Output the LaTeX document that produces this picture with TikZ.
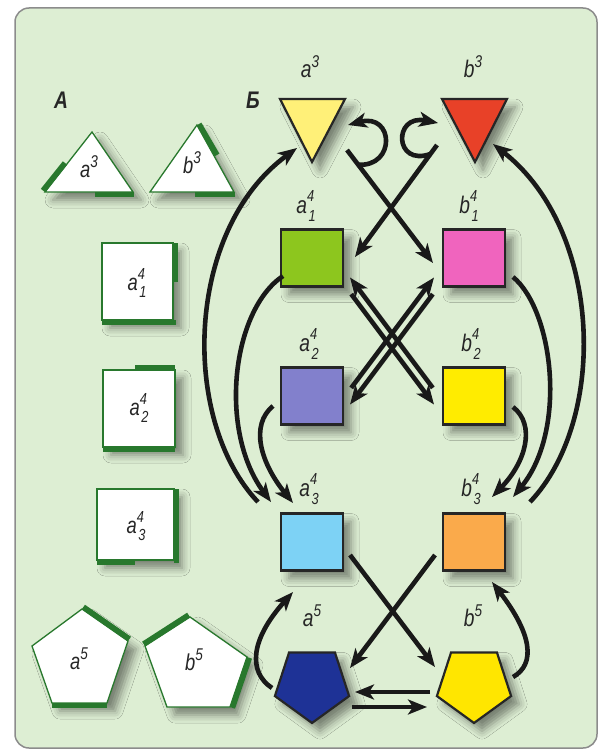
\documentclass[tikz,border=0pt]{standalone}
\usepackage{fontspec}
\setmainfont{Liberation Sans}
\newfontfamily\lf[FakeStretch=0.8]{Liberation Sans}
\usetikzlibrary{arrows.meta,shapes.geometric,shadows.blur,calc}

\definecolor{bg}{RGB}{221,238,211}
\definecolor{frm}{RGB}{140,140,140}
\definecolor{dg}{RGB}{40,120,45}
\definecolor{cya}{RGB}{255,240,120}
\definecolor{cyb}{RGB}{232,65,40}
\definecolor{cfa}{RGB}{141,198,30}
\definecolor{cfb}{RGB}{240,100,190}
\definecolor{cga}{RGB}{130,128,204}
\definecolor{cgb}{RGB}{255,236,0}
\definecolor{cha}{RGB}{125,210,245}
\definecolor{chb}{RGB}{250,170,75}
\definecolor{cpa}{RGB}{30,50,150}
\definecolor{cpb}{RGB}{255,230,0}

\newcommand\lsup[2]{#1\raisebox{0.43em}{\fontsize{17}{17}\selectfont #2}}
\newcommand\lsubsup[3]{#1\rlap{\raisebox{0.5em}{\fontsize{16}{16}\selectfont #2}}\raisebox{-0.32em}{\fontsize{16}{16}\selectfont\kern1.5pt #3}}

\begin{document}
\begin{tikzpicture}[x=1pt,y=-1pt,
  shd/.style={blur shadow={shadow xshift=8pt,shadow yshift=-8pt,shadow blur radius=8pt,shadow opacity=45}},
  sq/.style={draw=black!85,line width=2.2pt,minimum width=62pt,minimum height=57pt,inner sep=0pt,shd},
  pent/.style={regular polygon,regular polygon sides=5,shape border rotate=180,minimum size=78pt,inner sep=0pt,draw=black!85,line width=2.2pt,shd},
  tri/.style={draw=black!85,line width=2.2pt,line join=miter,shd},
  arr/.style={line width=4.6pt,draw=black!90,-{Stealth[length=19pt,width=15pt,inset=5pt]}},
  lbl/.style={font=\lf\itshape\fontsize{24}{24}\selectfont,text=black!85,inner sep=0pt},
  wlbl/.style={font=\lf\itshape\fontsize{23}{23}\selectfont,text=black!85,inner sep=0pt},
  big/.style={font=\lf\bfseries\itshape\fontsize{24}{24}\selectfont,text=black!85,inner sep=0pt},
  wsh/.style={fill=white,draw=dg,line width=1.3pt,shd},
  gbar/.style={draw=dg,line width=5.5pt}]

\useasboundingbox (0,0) rectangle (603,752);
\fill[white] (0,0) rectangle (603,752);
\draw[frm,line width=1.5pt,fill=bg,rounded corners=14pt] (15,8) rectangle (597,748);

% ---------- panel A ----------
\node[big] (tA) at (61,100) {A};
\path[wsh] (92,132) -- (133,192) -- (45,192) -- cycle;
\draw[gbar] (43,190.5) -- (65,163);
\draw[gbar] (95,194.5) -- (134,194.5);
\node[wlbl] (la3A) at (89,167) {\lsup{a}{3}};

\path[wsh] (197,125) -- (234,192) -- (150,192) -- cycle;
\draw[gbar] (199,124) -- (217,155);
\draw[gbar] (195,194.5) -- (235,194.5);
\node[wlbl] (lb3A) at (192,163) {\lsup{b}{3}};

\path[wsh] (102,243) rectangle (173,320);
\draw[gbar] (175.5,243) -- (175.5,282);
\draw[gbar] (102,322.5) -- (176,322.5);
\node[wlbl] (la41A) at (137,283) {\lsubsup{a}{4}{1}};

\path[wsh] (103,370) rectangle (175,447);
\draw[gbar] (135,367.5) -- (175,367.5);
\draw[gbar] (103,449.5) -- (175,449.5);
\node[wlbl] (la42A) at (139,408) {\lsubsup{a}{4}{2}};

\path[wsh] (97,489) rectangle (174,560);
\draw[gbar] (176.5,489) -- (176.5,563);
\draw[gbar] (97,562.5) -- (135,562.5);
\node[wlbl] (la43A) at (136,526) {\lsubsup{a}{4}{3}};

\path[wsh] (82,609) -- (128,641) -- (107,703) -- (52,703) -- (32,646) -- cycle;
\draw[gbar] (83.4,607) -- (129.4,639);
\draw[gbar] (52,705.5) -- (107,705.5);
\node[wlbl] (la5A) at (79,659) {\lsup{a}{5}};

\path[wsh] (190,617) -- (247,657) -- (230,707) -- (167,707) -- (145,646) -- cycle;
\draw[gbar] (143.6,644) -- (188.6,615);
\draw[gbar] (249.4,657.8) -- (232.4,707.8);
\node[wlbl] (lb5A) at (194,660) {\lsup{b}{5}};

% ---------- panel B ----------
\node[big] (tB) at (253,100) {Б};

\path[tri,fill=cya] (280,99) -- (345,99) -- (312,162) -- cycle;
\coordinate (a3) at (312,121);
\path[tri,fill=cyb] (442,99) -- (507,99) -- (475,162) -- cycle;
\coordinate (b3) at (475,121);

\node[sq,fill=cfa] (a41) at (312,258) {};
\node[sq,fill=cfb] (b41) at (474,258) {};
\node[sq,fill=cga] (a42) at (312,396) {};
\node[sq,fill=cgb] (b42) at (474,396) {};
\node[sq,fill=cha] (a43) at (312,542) {};
\node[sq,fill=chb] (b43) at (474,542) {};
\node[pent,fill=cpa] (a5) at (312,684) {};
\node[pent,fill=cpb] (b5) at (474,684) {};

\node[lbl] (la3) at (310,67) {\lsup{a}{3}};
\node[lbl] (lb3) at (473,67) {\lsup{b}{3}};
\node[lbl] (la41) at (306,206) {\lsubsup{a}{4}{1}};
\node[lbl] (lb41) at (469,206) {\lsubsup{b}{4}{1}};
\node[lbl] (la42) at (309,344) {\lsubsup{a}{4}{2}};
\node[lbl] (lb42) at (471,344) {\lsubsup{b}{4}{2}};
\node[lbl] (la43) at (309,489) {\lsubsup{a}{4}{3}};
\node[lbl] (lb43) at (471,489) {\lsubsup{b}{4}{3}};
\node[lbl] (la5) at (312,616) {\lsup{a}{5}};
\node[lbl] (lb5) at (473,616) {\lsup{b}{5}};

% left arcs
\draw[arr] ($(a43)+(-54,-40)$) .. controls (180,420) and (185,230) .. ($(a3)+(-15,27)$);
\draw[arr] ($(a41)+(-29,18)$) .. controls (232,310) and (218,430) .. ($(a43)+(-41,-40)$);
\draw[arr] ($(a42)+(-39,10)$) .. controls (250,425) and (260,462) .. ($(a43)+(-19,-39)$);
% right arcs
\draw[arr] ($(b43)+(56,-40)$) .. controls (608,420) and (603,230) .. ($(b3)+(18,23)$);
\draw[arr] ($(b41)+(39,19)$) .. controls (553,310) and (568,430) .. ($(b43)+(39,-45)$);
\draw[arr] ($(b42)+(39,11)$) .. controls (536,425) and (526,462) .. ($(b43)+(18,-45)$);

% top cross with loops
\coordinate (s1) at ($(a3)+(35,29)$);
\coordinate (e1) at ($(b41)+(-41,5)$);
\draw[arr] (s1) -- (e1);
\draw[arr] ($(s1)!0.13!(e1)$) .. controls (396,167) and (394,113) .. ($(a3)+(36,4)$);
\coordinate (s2) at ($(b3)+(-38,24)$);
\coordinate (e2) at ($(a41)+(43,-1)$);
\draw[arr] (s2) -- (e2);
\draw[arr] ($(s2)!0.08!(e2)$) .. controls (394,167) and (393,114) .. ($(b3)+(-37,2)$);

% middle double cross
\draw[arr] ($(b42)+(-41.2,-8.1)$) -- ($(a41)+(38,19.5)$);
\draw[arr] ($(a41)+(39.2,36.1)$) -- ($(b42)+(-40,8.5)$);
\draw[arr] ($(a42)+(39.2,-8.1)$) -- ($(b41)+(-40,19.5)$);
\draw[arr] ($(b41)+(-41.2,36.1)$) -- ($(a42)+(38,8.5)$);

% bottom
\draw[arr] ($(a43)+(38,13)$) -- ($(b5)+(-39,-17)$);
\draw[arr] ($(b43)+(-39,13)$) -- ($(a5)+(38,-16)$);
\draw[arr] ($(a5)+(-40,4)$) .. controls (248,672) and (250,640) .. ($(a43)+(-19,50)$);
\draw[arr] ($(b5)+(39,-7)$) .. controls (536,664) and (532,634) .. ($(b43)+(18,40)$);
\draw[arr] ($(b5)+(-44,8)$) -- ($(a5)+(43,8)$);
\draw[arr] ($(a5)+(40,23)$) -- ($(b5)+(-47,23)$);
\end{tikzpicture}
\end{document}
